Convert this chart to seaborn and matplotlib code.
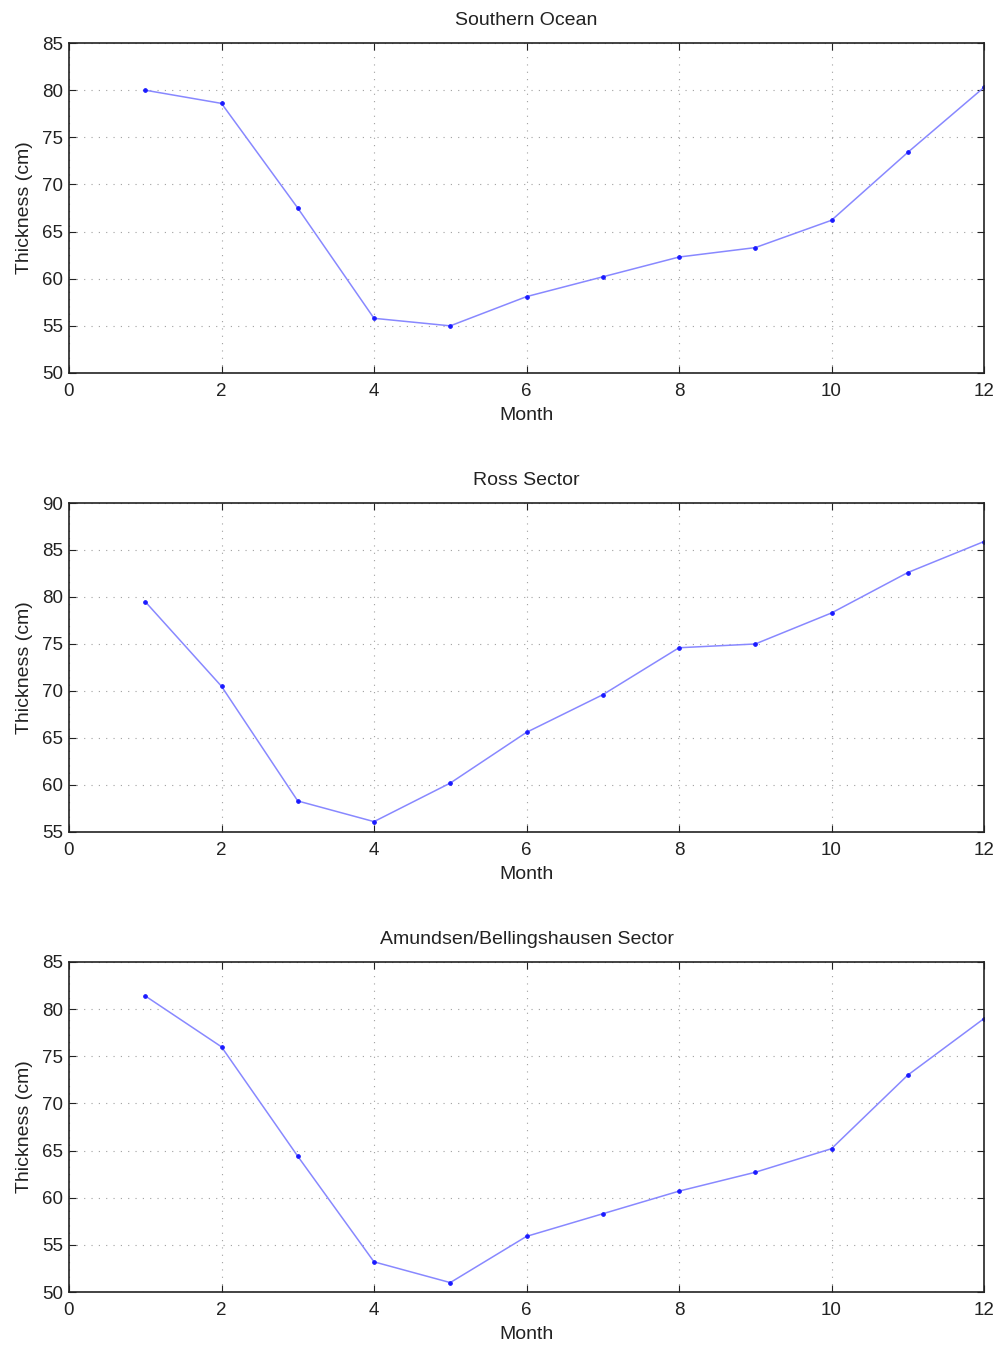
import matplotlib
matplotlib.use("Agg")
import matplotlib.pyplot as plt
import seaborn as sns
import pandas as pd

months = [1, 2, 3, 4, 5, 6, 7, 8, 9, 10, 11, 12]
southern_ocean = [80.0, 78.6, 67.5, 55.8, 55.0, 58.1, 60.2, 62.3, 63.3, 66.2, 73.4, 80.3]
ross_sector = [79.5, 70.5, 58.3, 56.1, 60.2, 65.6, 69.6, 74.6, 75.0, 78.3, 82.6, 85.9]
amundsen_bellingshausen = [81.4, 76.0, 64.4, 53.2, 51.0, 55.9, 58.3, 60.7, 62.7, 65.2, 73.0, 79.0]

titles = ["Southern Ocean", "Ross Sector", "Amundsen/Bellingshausen Sector"]
series = [southern_ocean, ross_sector, amundsen_bellingshausen]
ylims = [(50, 85), (55, 90), (50, 85)]
xticks = [0, 2, 4, 6, 8, 10, 12]

sns.set_theme(style="white")
plt.rcParams['font.family'] = ['Liberation Sans', 'DejaVu Sans']

fig = plt.figure(figsize=(10, 13.46), dpi=100)
boxes = [(0.069, 0.7229, 0.915, 0.2451),
         (0.069, 0.3819, 0.915, 0.2444),
         (0.069, 0.0401, 0.915, 0.2452)]

for box, title, vals, yl in zip(boxes, titles, series, ylims):
    ax = fig.add_axes(box)
    df = pd.DataFrame({"Month": months, "Thickness": vals})
    sns.lineplot(data=df, x="Month", y="Thickness", ax=ax, color="#8888ff",
                 linewidth=1.1, marker="o", markersize=2.6,
                 markerfacecolor="#1a1aff", markeredgecolor="#1a1aff")
    ax.set_xlim(0, 12)
    ax.set_ylim(*yl)
    ax.set_xticks(xticks)
    ax.set_yticks(list(range(yl[0], yl[1] + 1, 5)))
    ax.grid(True, linestyle=(0, (1, 5.6)), color="#a0a0a0", linewidth=0.8)
    ax.tick_params(direction="in", length=5, width=0.8, labelsize=13.5,
                   top=True, right=True, bottom=True, left=True,
                   colors="#222222")
    ax.tick_params(axis="x", pad=7.5)
    ax.tick_params(axis="y", pad=4)
    for sp in ax.spines.values():
        sp.set_color("#222222")
        sp.set_linewidth(1.2)
    ax.set_title(title, fontsize=14, color="#222222", pad=13)
    ax.set_xlabel("Month", fontsize=14, color="#222222", labelpad=5)
    ax.set_ylabel("Thickness (cm)", fontsize=14, color="#222222", labelpad=7)

fig.savefig("out.png", dpi=100)
